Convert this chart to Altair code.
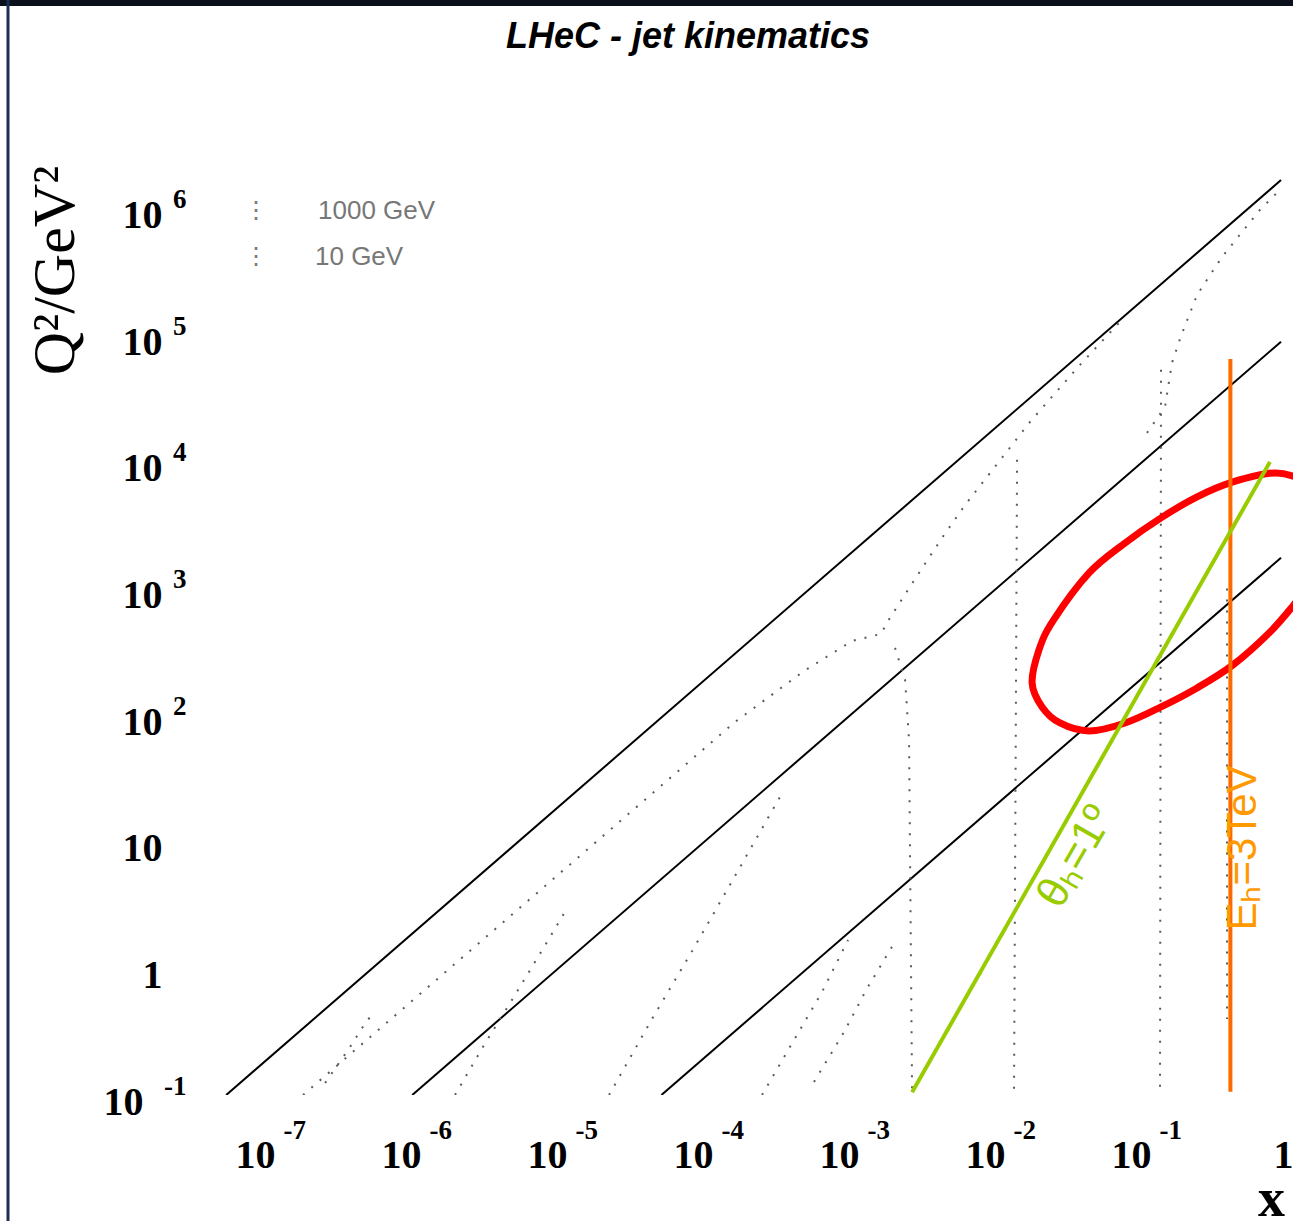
import altair as alt
import pandas as pd

# ---------------- axis ticks / domains ----------------
X_TICKS = [1e-7, 1e-6, 1e-5, 1e-4, 1e-3, 1e-2, 1e-1, 1.0]
Y_TICKS = [1e-1, 1.0, 10.0, 1e2, 1e3, 1e4, 1e5, 1e6]
X_DOMAIN = [10 ** -7.35, 10 ** 0.082]
Y_DOMAIN = [0.1, 10 ** 6.7]

# ---------------- solid kinematic limits (Q2 = c * x) ----------------
LINE_IDS = ["A", "B", "C"]
LINE_X_START = [5.95e-8, 1.12e-6, 5.7e-5]
LINE_X_END = [1.0, 1.0, 1.0]
LINE_Q_START = [0.1, 0.1, 0.1]
LINE_Q_END = [1.68e6, 8.9e4, 1.75e3]

# ---------------- theta_h = 1 deg line ----------------
THETA_X = [2.97e-3, 0.84]
THETA_Q = [0.105, 1.0e4]

# ---------------- E_h = 3 TeV line ----------------
EH_X = [0.45, 0.45]
EH_Q = [0.106, 6.5e4]

# ---------------- red ellipse (read as log10 values) ----------------
ELL_LOGX = [-1.705, -1.658, -1.562, -1.315, -1.068, -0.822, -0.575, -0.329, -0.041,
            0.158, 0.281, 0.349, 0.301, 0.205, 0.082, -0.082, -0.329, -0.575,
            -0.822, -1.068, -1.315, -1.514, -1.637]
ELL_LOGQ = [2.254, 2.515, 2.744, 3.123, 3.360, 3.558, 3.724, 3.842, 3.913,
            3.850, 3.724, 3.534, 3.273, 3.052, 2.863, 2.649, 2.397, 2.215,
            2.065, 1.938, 1.875, 1.938, 2.065]

# ---------------- dotted contours (log10 values) ----------------
DOT1_LOGX = [-6.699, -3.740, -3.267, -2.938, -2.740, -2.692, -2.534, -2.322, -2.164, -1.719, -1.390, -1.103]
DOT1_LOGQ = [-1.0, 1.946, 2.349, 2.586, 2.641, 2.744, 3.028, 3.400, 3.660, 4.316, 4.750, 5.106]
DOT2_LOGX = [-2.644, -2.575, -2.548, -2.527]
DOT2_LOGQ = [2.531, 2.278, 1.804, -1.0]
DOT3_LOGX = [-1.808, -1.829]
DOT3_LOGQ = [4.016, -1.0]
DOT4_LOGX = [-0.822, -0.829]
DOT4_LOGQ = [4.727, -1.0]
DOT5_LOGX = [-4.603, -4.301, -4.041, -3.740, -3.432]
DOT5_LOGQ = [-1.0, -0.384, 0.122, 0.730, 1.354]
DOT6_LOGX = [-5.658, -5.459, -5.247, -5.048, -4.897]
DOT6_LOGQ = [-1.0, -0.605, -0.210, 0.169, 0.461]
DOT7_LOGX = [-0.370, -0.370]
DOT7_LOGQ = [3.0, -0.4]
DOT8_LOGX = [-0.918, -0.795, -0.747, -0.685, -0.575, -0.404, -0.144, -0.021]
DOT8_LOGQ = [4.229, 4.434, 4.782, 4.995, 5.319, 5.619, 5.991, 6.133]
DOT9_LOGX = [-6.548, -6.377, -6.281, -6.240]
DOT9_LOGQ = [-0.905, -0.621, -0.447, -0.384]
DOT10_LOGX = [-3.555, -3.356, -3.144, -2.966]
DOT10_LOGQ = [-1.0, -0.605, -0.186, 0.224]
DOT11_LOGX = [-3.199, -2.993, -2.842, -2.637]
DOT11_LOGQ = [-0.897, -0.502, -0.171, 0.224]

# ---------------- labels ----------------
TITLE = "LHeC - jet kinematics"
LEGEND_LABELS = ["1000 GeV", "10 GeV"]
THETA_LABEL = "θₕ=1º"
THETA_LABEL_X = [0.0395]
THETA_LABEL_Q = [7.6]
EH_LABEL = "Eₕ=3TeV"
EH_LABEL_X = [0.549]
EH_LABEL_Q = [8.93]

# ---------------- build tables ----------------
rows = []
for i, lid in enumerate(LINE_IDS):
    rows.append({"id": lid, "i": 0, "x": LINE_X_START[i], "q": LINE_Q_START[i]})
    rows.append({"id": lid, "i": 1, "x": LINE_X_END[i], "q": LINE_Q_END[i]})
df_lines = pd.DataFrame(rows)

df_theta = pd.DataFrame({"x": THETA_X, "q": THETA_Q, "i": [0, 1]})
df_eh = pd.DataFrame({"x": EH_X, "q": EH_Q, "i": [0, 1]})
df_ell = pd.DataFrame({"x": [10 ** v for v in ELL_LOGX],
                       "q": [10 ** v for v in ELL_LOGQ],
                       "i": list(range(len(ELL_LOGX)))})

dots = [(DOT1_LOGX, DOT1_LOGQ), (DOT2_LOGX, DOT2_LOGQ), (DOT3_LOGX, DOT3_LOGQ),
        (DOT4_LOGX, DOT4_LOGQ), (DOT5_LOGX, DOT5_LOGQ), (DOT6_LOGX, DOT6_LOGQ),
        (DOT7_LOGX, DOT7_LOGQ), (DOT8_LOGX, DOT8_LOGQ), (DOT9_LOGX, DOT9_LOGQ),
        (DOT10_LOGX, DOT10_LOGQ), (DOT11_LOGX, DOT11_LOGQ)]
drows = []
for k, (lx, lq) in enumerate(dots):
    for j, (a, b) in enumerate(zip(lx, lq)):
        drows.append({"id": f"d{k}", "i": j, "x": 10 ** a, "q": 10 ** b})
df_dots = pd.DataFrame(drows)

xscale = alt.Scale(type="log", domain=X_DOMAIN, nice=False)
yscale = alt.Scale(type="log", domain=Y_DOMAIN, nice=False)

SERIF = "Liberation Serif, Times New Roman, serif"
SANS = "Liberation Sans, Arial, Helvetica, sans-serif"

common_axis = dict(domain=False, ticks=False, tickSize=0, grid=False,
                   labelOverlap=False, labelFlush=False, labelBound=False)

x_axis_main = alt.Axis(
    values=X_TICKS, orient="bottom",
    labelExpr="datum.value >= 1 ? '1' : '10'",
    labelFont=SERIF, labelFontSize=40, labelFontWeight="bold", labelColor="black",
    labelAlign="center", labelBaseline="middle", labelPadding=60,
    labelOffset={"condition": {"test": "datum.value >= 1", "value": 2}, "value": -4},
    title="x", titleFont=SERIF, titleFontSize=54, titleFontWeight="bold",
    titleColor="black", titleX=1063, titleY=104, titleAlign="center",
    titleBaseline="middle", **common_axis)

x_axis_exp = alt.Axis(
    values=X_TICKS, orient="bottom",
    labelExpr="datum.value >= 1 ? '' : '-' + abs(round(log(datum.value) / LN10))",
    labelFont=SERIF, labelFontSize=27, labelFontWeight="bold", labelColor="black",
    labelAlign="left", labelBaseline="middle", labelPadding=35, labelOffset=24,
    title="", **common_axis)

y_axis_main = alt.Axis(
    values=Y_TICKS, orient="left",
    labelExpr="datum.value == 1 ? '1' : '10'",
    labelFont=SERIF, labelFontSize=40, labelFontWeight="bold", labelColor="black",
    labelAlign="right", labelBaseline="middle",
    labelPadding={"condition": {"test": "datum.value < 1", "value": 65}, "value": 46},
    labelOffset=7,
    title="Q²/GeV²", titleFont=SERIF, titleFontSize=60, titleFontWeight="normal",
    titleColor="black", titleAngle=270, titleX=-153, titleY=150,
    titleAlign="center", titleBaseline="middle", **common_axis)

y_axis_exp = alt.Axis(
    values=Y_TICKS, orient="left",
    labelExpr="(datum.value == 1 || datum.value == 10) ? '' : (datum.value < 1 ? '-' : '') + abs(round(log(datum.value) / LN10))",
    labelFont=SERIF, labelFontSize=27, labelFontWeight="bold", labelColor="black",
    labelAlign="right", labelBaseline="middle", labelPadding=22, labelOffset=-9,
    title="", **common_axis)

lines = alt.Chart(df_lines).mark_line(color="black", strokeWidth=2, clip=True).encode(
    x=alt.X("x:Q", scale=xscale, axis=x_axis_main),
    y=alt.Y("q:Q", scale=yscale, axis=y_axis_main),
    detail="id:N", order="i:O")

dotted = alt.Chart(df_dots).mark_line(color="#5a5a5a", strokeWidth=2, strokeDash=[2, 9], clip=True).encode(
    x=alt.X("x:Q", scale=xscale, axis=None),
    y=alt.Y("q:Q", scale=yscale, axis=None),
    detail="id:N", order="i:O")

ellipse = alt.Chart(df_ell).mark_line(color="#ff0000", strokeWidth=7, interpolate="cardinal-closed", clip=True).encode(
    x=alt.X("x:Q", scale=xscale, axis=None),
    y=alt.Y("q:Q", scale=yscale, axis=None),
    order="i:O")

eh_line = alt.Chart(df_eh).mark_line(color="#ff6a00", strokeWidth=4, clip=True).encode(
    x=alt.X("x:Q", scale=xscale, axis=None),
    y=alt.Y("q:Q", scale=yscale, axis=None),
    order="i:O")

theta_line = alt.Chart(df_theta).mark_line(color="#99cc00", strokeWidth=4, clip=True).encode(
    x=alt.X("x:Q", scale=xscale, axis=x_axis_exp),
    y=alt.Y("q:Q", scale=yscale, axis=y_axis_exp),
    order="i:O")

theta_text = alt.Chart(pd.DataFrame({"x": THETA_LABEL_X, "q": THETA_LABEL_Q, "t": [THETA_LABEL]})).mark_text(
    color="#99cc00", font=SANS, fontSize=44, angle=300, align="center", baseline="middle").encode(
    x=alt.X("x:Q", scale=xscale, axis=None),
    y=alt.Y("q:Q", scale=yscale, axis=None),
    text="t:N")

eh_text = alt.Chart(pd.DataFrame({"x": EH_LABEL_X, "q": EH_LABEL_Q, "t": [EH_LABEL]})).mark_text(
    color="#ff9900", font=SANS, fontSize=42, angle=270, align="center", baseline="middle").encode(
    x=alt.X("x:Q", scale=xscale, axis=None),
    y=alt.Y("q:Q", scale=yscale, axis=None),
    text="t:N")

title_text = alt.Chart(pd.DataFrame({"t": [TITLE]})).mark_text(
    color="black", font=SANS, fontSize=36, fontWeight="bold", fontStyle="italic",
    align="center", baseline="alphabetic").encode(
    x=alt.value(480), y=alt.value(-72), text="t:N")

legend_text1 = alt.Chart(pd.DataFrame({"t": [LEGEND_LABELS[0]]})).mark_text(
    color="#777777", font=SANS, fontSize=26, align="left", baseline="middle").encode(
    x=alt.value(110), y=alt.value(91), text="t:N")
legend_text2 = alt.Chart(pd.DataFrame({"t": [LEGEND_LABELS[1]]})).mark_text(
    color="#777777", font=SANS, fontSize=26, align="left", baseline="middle").encode(
    x=alt.value(107), y=alt.value(137), text="t:N")
legend_mark1 = alt.Chart(pd.DataFrame({"t": ["⋮"]})).mark_text(
    color="#777777", font=SANS, fontSize=24, align="center", baseline="middle").encode(
    x=alt.value(48), y=alt.value(91), text="t:N")
legend_mark2 = alt.Chart(pd.DataFrame({"t": ["⋮"]})).mark_text(
    color="#777777", font=SANS, fontSize=24, align="center", baseline="middle").encode(
    x=alt.value(48), y=alt.value(137), text="t:N")

frame_top = alt.Chart(pd.DataFrame({"k": [0]})).mark_rule(color="#0b111a", strokeWidth=6, clip=False).encode(
    x=alt.value(-208), x2=alt.value(1085), y=alt.value(-117))
frame_left = alt.Chart(pd.DataFrame({"k": [0]})).mark_rule(color="#1c2f52", strokeWidth=3, clip=False).encode(
    x=alt.value(-200), y=alt.value(-120), y2=alt.value(1101))

chart = alt.layer(
    lines, dotted, ellipse, eh_line, theta_line, theta_text, eh_text, title_text,
    legend_mark1, legend_mark2, legend_text1, legend_text2, frame_top, frame_left
).resolve_axis(x="independent", y="independent").properties(
    width=1085, height=975,
    autosize=alt.AutoSizeParams(type="none"),
    padding={"left": 208, "top": 120, "right": 0, "bottom": 126},
    background="white",
).configure_view(stroke=None)

chart.save("out.html", embed_options={"renderer": "svg", "actions": False})
